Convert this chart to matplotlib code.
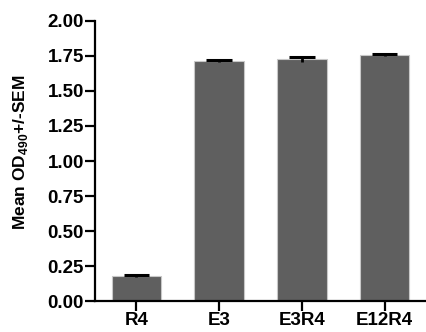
import numpy as np
import matplotlib
matplotlib.use('Agg')
import matplotlib.pyplot as plt

plt.rcParams['font.family'] = ['Liberation Sans', 'DejaVu Sans']
plt.rcParams['font.weight'] = 'bold'
plt.rcParams['mathtext.fontset'] = 'custom'
plt.rcParams['mathtext.rm'] = 'Liberation Sans:bold'
plt.rcParams['mathtext.bf'] = 'Liberation Sans:bold'

#### Data
groups = ['R4', 'E3', 'E3R4', 'E12R4']
means  = np.array([0.178, 1.715, 1.728, 1.757])
sems   = np.array([0.005, 0.005, 0.018, 0.006])
yticks = [0.00, 0.25, 0.50, 0.75, 1.00, 1.25, 1.50, 1.75, 2.00]

#### Plot
fig = plt.figure(figsize=(4.26, 3.32), dpi=100)
ax = fig.add_axes([0.223, 0.093, 0.777, 0.844])

x = np.arange(len(groups))
ax.bar(x, means, width=0.6, color='#5f5f5f', edgecolor='#c8c8c8', linewidth=0.8, zorder=2)
ax.vlines(x, means - sems, means + sems, color='black', linewidth=2, zorder=3)
ax.hlines(means + sems, x - 0.155, x + 0.155, color='black', linewidth=2.2, zorder=3)

ax.set_xlim(-0.5, 3.5)
ax.set_ylim(0, 2.0)
ax.set_xticks(x)
ax.set_xticklabels(groups, fontsize=13.5, fontweight='bold')
ax.set_yticks(yticks)
ax.set_yticklabels([f'{t:.2f}' for t in yticks], fontsize=13.5, fontweight='bold')
ax.set_ylabel(r'Mean OD$_{\mathrm{490}}$+/-SEM', fontsize=12.5, fontweight='bold')
ax.yaxis.set_label_coords(-0.195, 0.53)

for s in ['top', 'right']:
    ax.spines[s].set_visible(False)
for s in ['left', 'bottom']:
    ax.spines[s].set_linewidth(1.6)
ax.tick_params(axis='both', width=1.6, length=7, pad=1)
ax.spines['left'].set_zorder(4)

fig.savefig('out.png', dpi=100)
